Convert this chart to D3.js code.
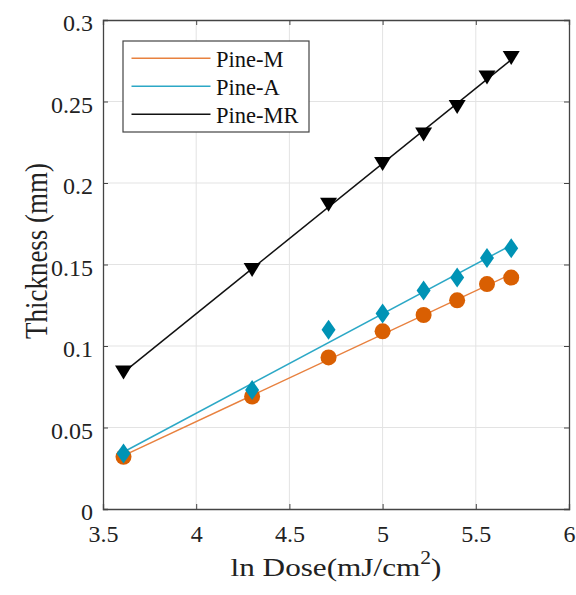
<!DOCTYPE html>
<html><head><meta charset="utf-8">
<script src="https://cdn.jsdelivr.net/npm/d3@7/dist/d3.min.js"></script>
<style>body{margin:0;background:#fff} text{font-family:"Liberation Serif","Times New Roman",serif !important}</style>
</head><body>
<svg id="c" width="576" height="595"></svg>
<script>
const lnDose = [3.61, 4.30, 4.71, 5.00, 5.22, 5.40, 5.56, 5.69];
const pineM  = [0.032, 0.069, 0.093, 0.109, 0.119, 0.128, 0.138, 0.142];
const pineA  = [0.034, 0.073, 0.110, 0.120, 0.134, 0.142, 0.154, 0.160];
const pineMR = [0.084, 0.147, 0.187, 0.212, 0.230, 0.247, 0.265, 0.277];
const xTicks = [3.5, 4, 4.5, 5, 5.5, 6];
const yTicks = [0, 0.05, 0.1, 0.15, 0.2, 0.25, 0.3];
const seriesNames = ["Pine-M", "Pine-A", "Pine-MR"];

const svg = d3.select("#c");
const m = {l:103, r:569, t:20, b:509};
const x = d3.scaleLinear().domain([3.5, 6]).range([m.l, m.r]);
const y = d3.scaleLinear().domain([0, 0.3]).range([m.b, m.t]);
const font = "Liberation Serif";

// grid
svg.append("g").selectAll("line").data(xTicks.slice(1,-1)).join("line")
  .attr("x1", d=>x(d)).attr("x2", d=>x(d)).attr("y1", m.t).attr("y2", m.b)
  .attr("stroke", "#e3e3e3").attr("stroke-width", 1);
svg.append("g").selectAll("line").data(yTicks.slice(1,-1)).join("line")
  .attr("y1", d=>y(d)).attr("y2", d=>y(d)).attr("x1", m.l).attr("x2", m.r)
  .attr("stroke", "#e3e3e3").attr("stroke-width", 1);

// axes
const ax = svg.append("g").attr("transform", `translate(0,${m.b})`)
  .call(d3.axisBottom(x).tickValues(xTicks).tickSize(-5).tickFormat(d3.format("")));
const ay = svg.append("g").attr("transform", `translate(${m.l},0)`)
  .call(d3.axisLeft(y).tickValues(yTicks).tickSize(-5).tickPadding(10).tickFormat(d=>d===0?"0":String(+d.toFixed(2))));
const axT = svg.append("g").attr("transform", `translate(0,${m.t})`)
  .call(d3.axisTop(x).tickValues(xTicks).tickSize(-5).tickFormat(""));
const ayR = svg.append("g").attr("transform", `translate(${m.r},0)`)
  .call(d3.axisRight(y).tickValues(yTicks).tickSize(-5).tickFormat(""));
[ax, ay, axT, ayR].forEach(g=>{
  g.attr("font-family", font);
  g.selectAll("path").attr("stroke", "#444").attr("stroke-width", 1.3);
  g.selectAll("line").attr("stroke", "#444").attr("stroke-width", 1);
  g.selectAll("text").attr("font-size", 24).attr("fill", "#222");
});
ax.selectAll("text").attr("y", 33).attr("dy", 0);
ay.selectAll("text").attr("dy", "0.45em");

// fits
function fit(xs, ys){
  const n = xs.length, mx = d3.mean(xs), my = d3.mean(ys);
  let sxy=0, sxx=0;
  for(let i=0;i<n;i++){ sxy += (xs[i]-mx)*(ys[i]-my); sxx += (xs[i]-mx)**2; }
  const b = sxy/sxx, a = my - b*mx;
  return d3.extent(xs).map(v=>[v, a+b*v]);
}
const series = [
  {name: seriesNames[0], vals: pineM, line:"#E8813F", mark:"#D95F02", shape:"circle"},
  {name: seriesNames[1], vals: pineA, line:"#2CA8C6", mark:"#0093B5", shape:"diamond"},
  {name: seriesNames[2], vals: pineMR, line:"#111", mark:"#000", shape:"tri"}
];
const lineGen = d3.line().x(d=>x(d[0])).y(d=>y(d[1]));
series.forEach(s=>{
  svg.append("path").datum(fit(lnDose, s.vals)).attr("d", lineGen)
    .attr("fill","none").attr("stroke", s.line).attr("stroke-width", 1.5);
});
series.forEach(s=>{
  const pts = lnDose.map((v,i)=>[v, s.vals[i]]);
  const g = svg.append("g");
  if(s.shape==="circle"){
    g.selectAll("circle").data(pts).join("circle")
      .attr("cx", d=>x(d[0])).attr("cy", d=>y(d[1])).attr("r", 8).attr("fill", s.mark);
  } else if(s.shape==="diamond"){
    g.selectAll("path").data(pts).join("path")
      .attr("d", d=>{const cx=x(d[0]), cy=y(d[1]); return `M${cx},${cy-10}L${cx+7},${cy}L${cx},${cy+10}L${cx-7},${cy}Z`;})
      .attr("fill", s.mark);
  } else {
    g.selectAll("path").data(pts).join("path")
      .attr("d", d=>{const cx=x(d[0]), cy=y(d[1]); return `M${cx-8.5},${cy-6.5}L${cx+8.5},${cy-6.5}L${cx},${cy+7.5}Z`;})
      .attr("fill", s.mark);
  }
});

// legend
const lg = svg.append("g");
lg.append("rect").attr("x", 123).attr("y", 41).attr("width", 186).attr("height", 91)
  .attr("fill", "#fff").attr("stroke", "#444").attr("stroke-width", 1.2);
series.forEach((s,i)=>{
  const yy = 58.3 + i*28;
  lg.append("line").attr("x1", 131.5).attr("x2", 210.5).attr("y1", yy).attr("y2", yy)
    .attr("stroke", s.line).attr("stroke-width", 1.5);
  lg.append("text").attr("x", 216).attr("y", yy+8.5).text(s.name)
    .attr("font-family", font).attr("font-size", 22.5).attr("fill", "#111");
});

// axis labels
const xl = svg.append("text").attr("transform", "translate(336,576) scale(1.2,1)").attr("text-anchor", "middle")
  .attr("font-family", font).attr("font-size", 26).attr("fill", "#222");
xl.append("tspan").text("ln Dose(mJ/cm");
xl.append("tspan").text("2").attr("font-size", 18).attr("dy", -12);
xl.append("tspan").text(")").attr("dy", 12);
svg.append("text").attr("transform", "translate(47,251) rotate(-90) scale(1,1.15)").attr("text-anchor", "middle")
  .attr("font-family", font).attr("font-size", 27).attr("fill", "#222").text("Thickness (mm)");
</script>
</body></html>
